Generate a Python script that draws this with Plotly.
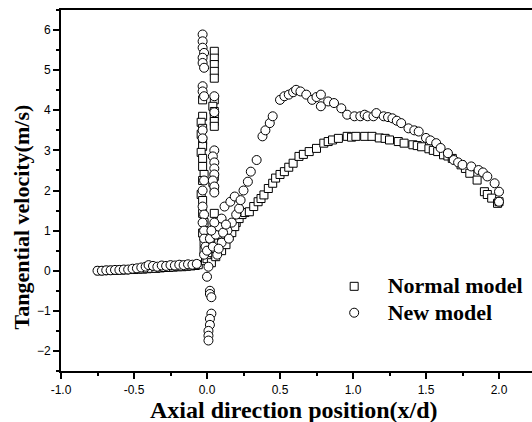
import plotly.graph_objects as go

# Normal model (squares)
normal_x = [-0.74,-0.71,-0.68,-0.65,-0.62,-0.59,-0.56,-0.53,-0.50,-0.47,-0.44,-0.41,-0.38,-0.35,-0.32,-0.29,-0.26,-0.23,-0.20,-0.17,-0.14,-0.11,-0.08,-0.06,
            -0.03,-0.03,-0.04,-0.03,-0.04,-0.03,-0.03,-0.04,-0.03,-0.03,-0.02,-0.03,-0.04,-0.03,-0.03,-0.02,-0.03,-0.02,-0.02,-0.01,-0.01,
            0.05,0.05,0.05,0.05,0.05,0.05,0.04,0.05,0.05,0.05,0.05,0.05,0.04,0.05,0.05,0.05,0.04,
            0.00,0.02,0.04,0.06,0.08,0.10,0.12,0.14,0.16,0.18,0.20,0.22,0.24,0.07,0.10,0.13,0.15,0.09,0.11,0.03,0.06,0.17,0.19,
            0.26,0.29,0.32,0.35,0.37,0.39,0.42,0.45,0.47,0.50,0.53,0.56,0.59,0.63,0.66,0.70,0.75,0.80,0.83,0.86,0.90,0.96,0.99,1.02,1.08,1.13,
            1.18,1.22,1.25,1.31,1.35,1.41,1.44,1.47,1.52,1.55,1.58,1.62,1.65,1.68,1.74,1.77,1.80,1.85,1.90,1.92,1.95,1.99,2.00]
normal_y = [0.00,0.00,0.01,0.01,0.01,0.02,0.02,0.03,0.03,0.04,0.04,0.05,0.06,0.06,0.07,0.08,0.08,0.09,0.10,0.10,0.11,0.12,0.13,0.15,
            4.26,3.85,3.70,3.55,3.40,3.25,3.10,2.95,2.80,2.60,2.40,2.25,1.90,1.75,1.43,1.20,0.94,0.70,0.50,0.35,0.25,
            5.47,5.30,5.14,4.97,4.80,4.26,4.10,3.97,3.85,3.72,3.60,2.35,2.20,2.05,1.43,1.10,0.80,
            0.30,0.45,0.55,0.60,0.70,0.80,0.90,1.00,1.05,1.15,1.20,1.30,1.40,0.90,0.50,0.65,0.85,1.10,1.00,0.20,0.35,0.95,1.10,
            1.45,1.47,1.60,1.72,1.80,1.89,2.05,2.18,2.31,2.40,2.47,2.58,2.68,2.85,2.90,2.97,3.05,3.18,3.22,3.26,3.30,3.35,3.33,3.35,3.35,3.35,
            3.31,3.30,3.26,3.22,3.18,3.14,3.12,3.09,3.04,3.00,2.97,2.89,2.86,2.80,2.64,2.55,2.43,2.26,1.97,1.90,1.81,1.68,1.72]

# New model (circles)
new_x = [-0.75,-0.72,-0.69,-0.66,-0.63,-0.60,-0.57,-0.54,-0.51,-0.48,-0.45,-0.42,-0.40,-0.37,-0.34,-0.31,-0.28,-0.25,-0.22,-0.19,-0.16,-0.13,-0.10,-0.07,
         -0.03,-0.03,-0.03,-0.02,-0.03,-0.03,-0.02,-0.03,-0.03,-0.02,-0.03,-0.03,-0.02,-0.03,-0.03,-0.02,-0.03,-0.02,-0.02,-0.01,-0.02,
         0.05,0.05,0.05,0.04,0.05,0.05,0.05,0.04,0.05,0.05,
         0.00,0.02,0.02,0.03,0.03,0.02,0.02,0.01,0.01,0.01,0.01,
         0.00,0.02,0.04,0.06,0.08,0.10,0.12,0.16,0.19,0.05,0.03,0.07,0.10,0.14,0.17,0.20,0.22,0.11,0.13,0.08,0.15,
         0.23,0.25,0.28,0.30,0.34,0.38,0.40,0.43,0.45,0.50,0.53,0.56,0.59,0.61,0.64,0.68,0.72,0.75,0.78,0.78,0.83,0.87,0.92,0.96,
         1.01,1.05,1.08,1.10,1.14,1.16,1.21,1.24,1.27,1.30,1.33,1.38,1.42,1.45,1.50,1.53,1.57,1.60,1.65,1.69,1.72,1.75,1.81,1.86,1.89,1.92,1.97,2.00,2.00]
new_y = [0.00,0.00,0.01,0.01,0.02,0.02,0.03,0.03,0.05,0.06,0.08,0.10,0.14,0.12,0.10,0.13,0.12,0.14,0.13,0.15,0.14,0.16,0.15,0.17,
         5.89,5.72,5.56,5.43,5.31,5.18,5.06,4.60,4.47,4.35,3.50,3.30,2.25,2.00,1.60,1.40,1.20,1.00,0.80,0.60,0.40,
         4.35,3.95,3.00,2.85,2.70,2.55,2.40,2.25,2.10,1.95,
         -0.15,-0.50,-0.58,-0.66,-1.07,-1.20,-1.35,-1.50,-1.62,-1.74,0.10,
         0.50,0.80,0.60,0.90,1.10,1.30,1.60,1.72,1.85,1.20,1.00,0.40,0.70,1.00,1.20,1.40,1.55,0.95,1.15,0.55,0.80,
         1.76,2.00,2.22,2.47,2.76,3.35,3.50,3.68,3.85,4.26,4.35,4.39,4.45,4.51,4.47,4.39,4.26,4.33,4.39,4.10,4.22,4.18,4.05,3.89,
         3.85,3.85,3.89,3.85,3.85,3.93,3.85,3.83,3.80,3.74,3.68,3.55,3.50,3.47,3.31,3.25,3.18,3.06,2.93,2.76,2.70,2.64,2.60,2.51,2.45,2.35,2.18,1.97,1.72]

x_ticks = [-1.0, -0.5, 0.0, 0.5, 1.0, 1.5, 2.0]
x_labels = ["-1.0", "-0.5", "0.0", "0.5", "1.0", "1.5", "2.0"]
y_ticks = [-2, -1, 0, 1, 2, 3, 4, 5, 6]

fig = go.Figure()
fig.add_trace(go.Scatter(x=normal_x, y=normal_y, mode="markers",
                         name="&nbsp;&nbsp;&nbsp;<span style='font-size:22px'><b>Normal model</b></span>",
                         marker=dict(symbol="square", size=8, color="white",
                                     line=dict(color="black", width=1))))
fig.add_trace(go.Scatter(x=new_x, y=new_y, mode="markers",
                         name="&nbsp;&nbsp;&nbsp;<span style='font-size:22px'><b>New model</b></span>",
                         marker=dict(symbol="circle", size=9, color="white",
                                     line=dict(color="black", width=1))))

serif = "Liberation Serif, Times New Roman, serif"
sans = "Liberation Sans, Arial, sans-serif"

fig.update_layout(
    width=532, height=422,
    margin=dict(l=61, r=0, t=10, b=51),
    paper_bgcolor="white", plot_bgcolor="white",
    showlegend=True,
    legend=dict(x=0.58, y=0.285, xanchor="left", yanchor="top",
                bgcolor="rgba(0,0,0,0)",
                font=dict(family=serif, size=18, color="black"),
                itemwidth=30, tracegroupgap=0),
    xaxis=dict(range=[-1.0, 2.226], tickvals=x_ticks, ticktext=x_labels,
               showgrid=False, zeroline=False,
               showline=True, linecolor="black", linewidth=2, mirror=True,
               ticks="outside", ticklen=6, tickwidth=1.5, tickcolor="black",
               ticklabelstandoff=1,
               minor=dict(dtick=0.25, ticks="outside", ticklen=3, tickwidth=1.5, tickcolor="black"),
               tickfont=dict(family=sans, size=12, color="black")),
    yaxis=dict(range=[-2.5, 6.5], tickvals=y_ticks,
               showgrid=False, zeroline=False,
               showline=True, linecolor="black", linewidth=2, mirror=False,
               ticks="outside", ticklen=6, tickwidth=1.5, tickcolor="black",
               minor=dict(dtick=0.5, ticks="outside", ticklen=3, tickwidth=1.5, tickcolor="black"),
               tickfont=dict(family=sans, size=12, color="black")),
    annotations=[
        dict(text="<b>Axial direction position(x/d)</b>", xref="paper", yref="paper",
             x=0.495, y=-0.107, xanchor="center", yanchor="middle", showarrow=False,
             borderpad=0, font=dict(family=serif, size=24, color="black")),
        dict(text="<b>Tangential velocity(m/s)</b>", xref="paper", yref="paper",
             x=-0.083, y=0.428, xanchor="center", yanchor="middle", showarrow=False,
             textangle=-90, font=dict(family=serif, size=22, color="black")),
    ],
)

fig.write_html("out.html")
